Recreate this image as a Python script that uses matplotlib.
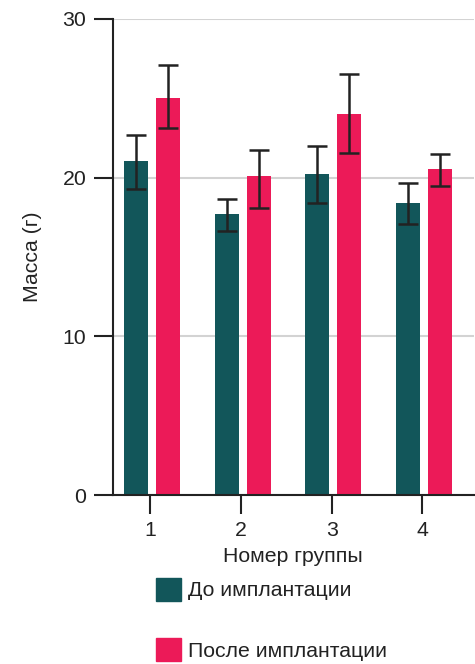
import matplotlib
matplotlib.use("Agg")
import matplotlib.pyplot as plt
import numpy as np
from matplotlib.patches import Patch

plt.rcParams['font.family'] = ['Liberation Sans', 'DejaVu Sans']

groups = [1, 2, 3, 4]
before_vals = [21.05, 17.7, 20.25, 18.4]
before_lo = [19.3, 16.65, 18.4, 17.1]
before_hi = [22.7, 18.65, 22.0, 19.65]
after_vals = [25.0, 20.1, 24.0, 20.55]
after_lo = [23.1, 18.1, 21.55, 19.5]
after_hi = [27.1, 21.75, 26.5, 21.5]
series_names = ["До имплантации", "После имплантации"]
yticks = [0, 10, 20, 30]

teal = "#12565A"
pink = "#EC1A58"
ink = "#222222"
fs = 15.3

fig = plt.figure(figsize=(4.75, 6.64), dpi=100)
ax = fig.add_axes([0.237, 0.2545, 0.761, 0.717])

x = np.array(groups, dtype=float)
w = 0.265
off = 0.176
b = np.array(before_vals); a = np.array(after_vals)
yerr_b = [b - np.array(before_lo), np.array(before_hi) - b]
yerr_a = [a - np.array(after_lo), np.array(after_hi) - a]

ax.bar(x - off, b, width=w, color=teal, zorder=2)
ax.bar(x + off, a, width=w, color=pink, zorder=2)
ekw = dict(fmt='none', ecolor=ink, elinewidth=1.8, capsize=7, capthick=1.8, zorder=3)
ax.errorbar(x - off, b, yerr=yerr_b, **ekw)
ax.errorbar(x + off, a, yerr=yerr_a, **ekw)

ax.set_xlim(0.567, 4.55)
ax.set_ylim(0, 30)
ax.set_yticks(yticks)
ax.set_xticks(x - 0.02)
ax.set_xticklabels([str(g) for g in groups])
ax.yaxis.grid(True, color="#d3d3d3", linewidth=1.5, zorder=0)
ax.set_axisbelow(True)
for s in ['top', 'right']:
    ax.spines[s].set_visible(False)
for s in ['left', 'bottom']:
    ax.spines[s].set_color(ink)
    ax.spines[s].set_linewidth(1.5)
ax.tick_params(axis='both', length=14, width=1.5, color=ink, labelsize=fs, labelcolor=ink, pad=5)

ax.set_xlabel("Номер группы", fontsize=fs, color=ink, labelpad=5)
ax.set_ylabel("Масса (г)", fontsize=fs, color=ink, labelpad=15)

handles = [Patch(color=teal), Patch(color=pink)]
fig.legend(handles, series_names, loc='upper left',
           bbox_to_anchor=(156 / 475, 1 - 577.7 / 664), frameon=False,
           fontsize=fs, handlelength=1.18, handleheight=1.3,
           handletextpad=0.33, labelspacing=1.75, borderpad=0, borderaxespad=0,
           labelcolor=ink)

fig.savefig("out.png", dpi=100)
